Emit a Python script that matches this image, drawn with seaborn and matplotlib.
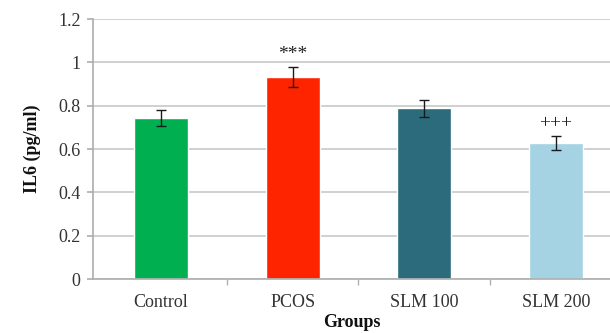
import matplotlib
matplotlib.use("Agg")
import matplotlib.pyplot as plt
import seaborn as sns
import pandas as pd
import numpy as np

groups = ["Control", "PCOS", "SLM 100", "SLM 200"]
il6 = [0.742, 0.933, 0.788, 0.627]
err = [0.038, 0.047, 0.040, 0.032]
marks = ["", "***", "", "+++"]
colors = ["#00B050", "#FF2400", "#2B6B7C", "#A5D3E3"]
yticks = [0, 0.2, 0.4, 0.6, 0.8, 1, 1.2]
ytick_labels = ["0", "0.2", "0.4", "0.6", "0.8", "1", "1.2"]

sns.set_theme(style="white")
plt.rcParams["font.family"] = ["Liberation Serif", "DejaVu Serif"]

df = pd.DataFrame({"Groups": groups, "IL6": il6})

fig = plt.figure(figsize=(6.10, 3.33), dpi=100)
ax = fig.add_axes([93/610, 1 - 279/333, (610-93)/610, 260/333])

sns.barplot(data=df, x="Groups", y="IL6", hue="Groups", palette=colors,
            width=0.41, legend=False, ax=ax, saturation=1)
x = np.arange(len(groups))
ax.errorbar(x, il6, yerr=err, fmt="none", ecolor="#1a1a1a", elinewidth=1.0,
            capsize=3.5, capthick=1.0)
for xi, v, e, m in zip(x, il6, err, marks):
    if m:
        ax.text(xi, v + e + 0.018, m, ha="center", va="bottom", fontsize=14,
                color="#222222")

ax.set_ylim(0, 1.2)
ax.set_xlim(-0.516, 3.41)
ax.set_yticks(yticks)
ax.set_yticklabels(ytick_labels)
ax.yaxis.grid(True, color="#c4c4c4", linewidth=1.1)
ax.set_axisbelow(True)
for s in ["top", "right"]:
    ax.spines[s].set_visible(False)
ax.spines["left"].set_color("#b0b0b0")
ax.spines["bottom"].set_color("#b0b0b0")
ax.tick_params(axis="y", left=True, length=4, color="#b0b0b0", labelsize=13,
               labelcolor="#333333", pad=5)
ax.set_xticks(x)
ax.set_xticklabels(groups)
ax.tick_params(axis="x", bottom=False, labelsize=13, labelcolor="#333333", pad=5)
ax.set_xticks([0.5, 1.5, 2.5], minor=True)
ax.tick_params(axis="x", which="minor", bottom=True, length=4, color="#b0b0b0")
ax.set_xlabel("Groups", fontsize=13, fontweight="bold", color="#111111", labelpad=2)
ax.set_ylabel("IL6 (pg/ml)", fontsize=13, fontweight="bold", color="#111111", labelpad=12)

fig.savefig("out.png", dpi=100)
